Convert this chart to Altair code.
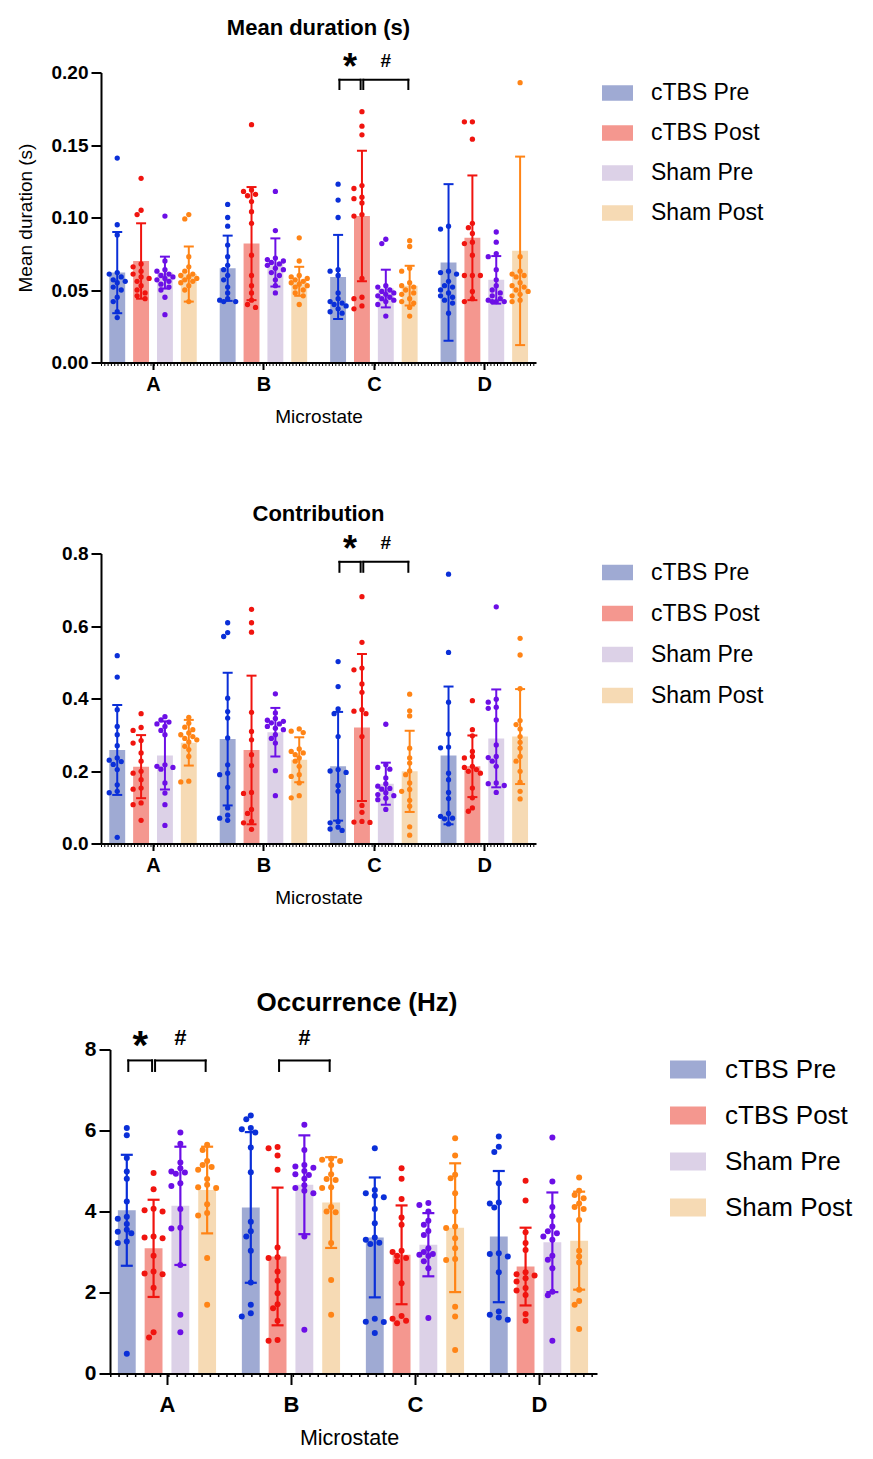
import altair as alt
import pandas as pd

FONT = "Liberation Sans"
STATES = ["A", "B", "C", "D"]
GROUPS = ["cTBS Pre", "cTBS Post", "Sham Pre", "Sham Post"]
BAR_COLORS = ["#9faad3", "#f4978f", "#dcd1e7", "#f6dab4"]
DOT_COLORS = ["#0a2fd8", "#f0140f", "#6c0fe6", "#ff8416"]

# ---- Mean duration (s): per microstate, groups in GROUPS order ----
dur_mean = [[0.062, 0.070, 0.062, 0.061], [0.065, 0.082, 0.069, 0.056],
            [0.059, 0.101, 0.051, 0.053], [0.069, 0.086, 0.057, 0.077]]
dur_sd = [[0.028, 0.026, 0.011, 0.019], [0.0225, 0.039, 0.0166, 0.010],
          [0.029, 0.045, 0.013, 0.0137], [0.054, 0.043, 0.0164, 0.065]]
dur_A = [[0.141, 0.095, 0.088, 0.062, 0.061, 0.059, 0.057, 0.056, 0.055, 0.052, 0.050, 0.045, 0.042, 0.035, 0.031],
         [0.127, 0.105, 0.102, 0.068, 0.066, 0.063, 0.061, 0.059, 0.058, 0.056, 0.053, 0.050, 0.048, 0.046, 0.044],
         [0.101, 0.070, 0.064, 0.063, 0.061, 0.060, 0.059, 0.058, 0.057, 0.056, 0.054, 0.052, 0.050, 0.045, 0.033],
         [0.102, 0.099, 0.073, 0.066, 0.063, 0.061, 0.060, 0.059, 0.058, 0.057, 0.056, 0.055, 0.053, 0.050, 0.042]]
dur_B = [[0.109, 0.100, 0.094, 0.081, 0.073, 0.067, 0.064, 0.060, 0.057, 0.052, 0.048, 0.044, 0.043, 0.042, 0.042],
         [0.164, 0.119, 0.118, 0.116, 0.115, 0.111, 0.104, 0.096, 0.074, 0.060, 0.053, 0.048, 0.043, 0.040, 0.038],
         [0.118, 0.091, 0.072, 0.071, 0.070, 0.069, 0.068, 0.067, 0.065, 0.064, 0.062, 0.060, 0.057, 0.053, 0.048],
         [0.086, 0.070, 0.060, 0.059, 0.058, 0.057, 0.056, 0.055, 0.054, 0.053, 0.052, 0.050, 0.048, 0.046, 0.040]]
dur_C = [[0.123, 0.112, 0.100, 0.064, 0.063, 0.060, 0.048, 0.044, 0.042, 0.041, 0.040, 0.039, 0.037, 0.035, 0.034],
         [0.173, 0.163, 0.157, 0.122, 0.120, 0.114, 0.113, 0.110, 0.102, 0.101, 0.058, 0.045, 0.044, 0.039, 0.037],
         [0.085, 0.082, 0.053, 0.052, 0.050, 0.049, 0.048, 0.047, 0.046, 0.045, 0.044, 0.043, 0.042, 0.040, 0.032],
         [0.084, 0.080, 0.065, 0.063, 0.055, 0.053, 0.052, 0.050, 0.048, 0.047, 0.044, 0.042, 0.041, 0.038, 0.032]]
dur_D = [[0.094, 0.092, 0.063, 0.062, 0.061, 0.056, 0.053, 0.052, 0.050, 0.048, 0.046, 0.045, 0.043, 0.041, 0.034],
         [0.166, 0.166, 0.154, 0.096, 0.093, 0.089, 0.083, 0.082, 0.074, 0.060, 0.060, 0.060, 0.049, 0.044, 0.042],
         [0.090, 0.083, 0.075, 0.073, 0.064, 0.057, 0.053, 0.050, 0.048, 0.046, 0.044, 0.043, 0.042, 0.042, 0.042],
         [0.193, 0.073, 0.063, 0.061, 0.060, 0.059, 0.055, 0.053, 0.052, 0.050, 0.049, 0.047, 0.046, 0.043, 0.042]]

# ---- Contribution ----
con_mean = [[0.258, 0.212, 0.243, 0.278], [0.288, 0.258, 0.307, 0.231],
            [0.213, 0.320, 0.165, 0.199], [0.243, 0.213, 0.290, 0.295]]
con_sd = [[0.124, 0.087, 0.094, 0.063], [0.183, 0.205, 0.067, 0.062],
          [0.150, 0.203, 0.058, 0.112], [0.190, 0.085, 0.135, 0.131]]
con_A = [[0.518, 0.459, 0.369, 0.323, 0.300, 0.270, 0.236, 0.230, 0.226, 0.218, 0.204, 0.162, 0.144, 0.140, 0.017],
         [0.358, 0.320, 0.312, 0.284, 0.277, 0.250, 0.227, 0.199, 0.194, 0.176, 0.153, 0.150, 0.112, 0.107, 0.064],
         [0.350, 0.341, 0.335, 0.330, 0.323, 0.312, 0.300, 0.217, 0.213, 0.210, 0.205, 0.167, 0.139, 0.107, 0.050],
         [0.348, 0.332, 0.321, 0.314, 0.305, 0.300, 0.295, 0.290, 0.286, 0.280, 0.268, 0.259, 0.240, 0.172, 0.170]]
con_B = [[0.609, 0.582, 0.571, 0.401, 0.364, 0.346, 0.291, 0.217, 0.194, 0.190, 0.155, 0.098, 0.078, 0.070, 0.064],
         [0.646, 0.609, 0.583, 0.362, 0.309, 0.286, 0.245, 0.215, 0.141, 0.138, 0.094, 0.083, 0.061, 0.057, 0.039],
         [0.413, 0.360, 0.345, 0.340, 0.337, 0.333, 0.330, 0.323, 0.318, 0.314, 0.300, 0.290, 0.277, 0.201, 0.132],
         [0.316, 0.310, 0.306, 0.261, 0.254, 0.250, 0.245, 0.236, 0.227, 0.213, 0.190, 0.185, 0.167, 0.132, 0.126]]
con_C = [[0.502, 0.433, 0.371, 0.358, 0.295, 0.204, 0.200, 0.196, 0.160, 0.144, 0.060, 0.057, 0.045, 0.040, 0.036],
         [0.681, 0.555, 0.484, 0.479, 0.440, 0.417, 0.369, 0.365, 0.358, 0.295, 0.105, 0.086, 0.061, 0.059, 0.058],
         [0.329, 0.217, 0.210, 0.205, 0.181, 0.165, 0.158, 0.152, 0.150, 0.140, 0.135, 0.132, 0.125, 0.121, 0.094],
         [0.412, 0.366, 0.352, 0.263, 0.236, 0.222, 0.200, 0.190, 0.167, 0.149, 0.144, 0.119, 0.103, 0.046, 0.023]]
con_D = [[0.743, 0.527, 0.390, 0.302, 0.266, 0.264, 0.194, 0.176, 0.141, 0.124, 0.083, 0.075, 0.070, 0.068, 0.054],
         [0.394, 0.314, 0.297, 0.254, 0.240, 0.236, 0.213, 0.210, 0.204, 0.199, 0.194, 0.153, 0.126, 0.098, 0.089],
         [0.653, 0.398, 0.390, 0.376, 0.373, 0.341, 0.272, 0.240, 0.237, 0.227, 0.213, 0.167, 0.165, 0.160, 0.141],
         [0.566, 0.520, 0.427, 0.339, 0.328, 0.316, 0.295, 0.279, 0.263, 0.240, 0.227, 0.199, 0.169, 0.144, 0.123]]

# ---- Occurrence (Hz) ----
occ_mean = [[4.03, 3.09, 4.14, 4.53], [4.10, 2.89, 4.66, 4.22],
            [3.36, 2.93, 3.18, 3.60], [3.38, 2.64, 3.24, 3.28]]
occ_sd = [[1.37, 1.20, 1.46, 1.07], [1.86, 1.70, 1.22, 1.12],
          [1.48, 1.22, 0.78, 1.59], [1.62, 0.96, 1.23, 1.21]]
occ_A = [[6.06, 5.88, 5.32, 4.99, 4.81, 4.25, 3.87, 3.82, 3.69, 3.55, 3.50, 3.46, 3.26, 3.22, 0.49],
         [4.95, 4.55, 4.07, 4.03, 4.00, 3.38, 3.36, 3.34, 2.91, 2.52, 2.47, 2.45, 2.12, 1.02, 0.89],
         [5.95, 5.67, 5.21, 5.07, 4.99, 4.96, 4.93, 4.70, 4.63, 4.06, 3.60, 3.58, 2.68, 1.45, 1.02],
         [5.65, 5.52, 5.25, 5.15, 5.10, 5.03, 4.80, 4.66, 4.60, 4.58, 4.18, 3.96, 3.90, 2.85, 1.70]]
occ_B = [[6.37, 6.28, 6.06, 6.03, 5.95, 5.58, 4.97, 3.75, 3.51, 3.38, 3.03, 2.25, 1.70, 1.49, 1.41],
         [5.59, 5.56, 5.38, 5.03, 3.11, 2.87, 2.85, 2.52, 2.29, 1.98, 1.71, 1.61, 1.30, 0.83, 0.81],
         [6.14, 5.52, 5.15, 5.11, 5.08, 5.00, 4.92, 4.90, 4.81, 4.65, 4.58, 4.51, 4.45, 3.38, 1.08],
         [5.30, 5.28, 5.25, 5.15, 4.92, 4.80, 4.78, 4.60, 4.58, 4.11, 4.00, 3.98, 3.22, 2.31, 1.45]]
occ_C = [[5.56, 4.53, 4.45, 4.39, 4.35, 4.06, 3.71, 3.36, 3.30, 3.23, 3.20, 1.35, 1.28, 1.27, 1.00],
         [5.07, 4.81, 4.31, 3.85, 3.67, 3.03, 3.00, 2.91, 2.85, 2.77, 2.23, 1.42, 1.35, 1.30, 1.24],
         [4.21, 4.16, 4.00, 3.77, 3.67, 3.52, 3.42, 3.09, 3.00, 2.95, 2.93, 2.90, 2.77, 2.60, 1.37],
         [5.81, 5.38, 4.91, 4.82, 4.45, 4.00, 3.63, 3.59, 3.34, 3.09, 2.83, 2.80, 1.65, 1.41, 0.58]]
occ_D = [[5.85, 5.60, 5.47, 4.70, 4.22, 4.20, 4.10, 2.97, 2.95, 2.89, 2.50, 1.53, 1.45, 1.38, 1.33],
         [4.76, 4.27, 3.49, 3.22, 3.05, 2.50, 2.45, 2.42, 2.35, 2.27, 2.11, 2.05, 1.94, 1.47, 1.30],
         [5.83, 4.74, 4.11, 3.88, 3.63, 3.51, 3.46, 3.38, 3.30, 2.91, 2.81, 2.60, 2.02, 1.93, 0.81],
         [4.84, 4.51, 4.41, 4.33, 4.20, 4.11, 4.06, 3.79, 3.03, 2.89, 2.74, 2.07, 1.79, 1.70, 1.10]]

# significance brackets: (microstate, from group, to group, symbol)
dur_sig = [("C", 0, 1, "*"), ("C", 1, 3, "#")]
con_sig = [("C", 0, 1, "*"), ("C", 1, 3, "#")]
occ_sig = [("A", 0, 1, "*"), ("A", 1, 3, "#"), ("B", 1, 3, "#")]
# bracket top, leg end, symbol level (in data units)
dur_marks = (0.195, 0.1886, 0.2077)
con_marks = (0.777, 0.7495, 0.8287)
occ_marks = (7.73, 7.47, 8.29)

PITCH = 0.216   # distance between group bars inside a microstate
HALF = 0.072    # half bar width
INSET = 0.012
X_MAX = 3.468
RECT = "M-1,-0.5H1V0.5H-1Z"


def swarm(vals, ypx, step, gap):
    """deterministic horizontal spread of points, a small beeswarm"""
    order = sorted(range(len(vals)), key=lambda i: -vals[i])
    placed, offs = [], [0.0] * len(vals)
    for i in order:
        y = vals[i] * ypx
        best, best_d = 0.0, -1.0
        for k in (0, -1, 1, -2, 2):
            x = k * step
            d = min([((x - px) ** 2 + (y - py) ** 2) ** 0.5 for px, py in placed] or [99])
            if d >= gap:
                best = x
                break
            if d > best_d:
                best, best_d = x, d
        placed.append((best, y))
        offs[i] = best
    return offs


def panel(points, means, sds, sig, marks, c):
    pxu = c["width"] / (X_MAX - c["x0"])
    ypx = c["height"] / c["ymax"]
    bars, pts = [], []
    for si, s in enumerate(STATES):
        for gi, g in enumerate(GROUPS):
            xc = si + (gi - 1.5) * PITCH
            m, sd = means[si][gi], sds[si][gi]
            bars.append(dict(group=g, xc=xc, xa=xc - HALF, xb=xc + HALF,
                             mean=m, lo=m - sd, hi=m + sd))
            vals = points[si][gi]
            for v, off in zip(vals, swarm(vals, ypx, c["step"], c["gap"])):
                pts.append(dict(group=g, value=v, x=xc + off / pxu))
    br, legs = [], []
    for s, g1, g2, sym in sig:
        si = STATES.index(s)
        xa = si + (g1 - 1.5) * PITCH + INSET
        xb = si + (g2 - 1.5) * PITCH - INSET
        br.append(dict(xa=xa, xb=xb, xm=(xa + xb) / 2, top=marks[0], ty=marks[2], sym=sym))
        legs += [dict(x=xa, top=marks[0], leg=marks[1]), dict(x=xb, top=marks[0], leg=marks[1])]
    df_bars, df_pts = pd.DataFrame(bars), pd.DataFrame(pts)
    df_br, df_legs = pd.DataFrame(br), pd.DataFrame(legs)

    xs = alt.Scale(domain=[c["x0"], X_MAX], nice=False, zero=False)
    ys = alt.Scale(domain=[0, c["ymax"]], nice=False)
    dark = alt.Scale(domain=GROUPS, range=DOT_COLORS)
    x_axis = alt.Axis(values=[0, 1, 2, 3], labelExpr="['A','B','C','D'][datum.value]",
                      title=c["xtitle_text"], grid=False, zindex=1, labelFlush=False,
                      tickSize=c["xtick"], labelPadding=c["xlpad"], labelFontSize=c["xlab"],
                      labelFontWeight="bold", titleFontSize=c["xtitle"], titleFontWeight="normal",
                      titlePadding=c["xtpad"], titleLineHeight=c["xtlh"])
    y_axis = alt.Axis(values=c["yticks"], format=c["yfmt"], title=c["ytitle"], grid=False,
                      zindex=1, offset=c["yoff"], tickSize=c["ytick"], labelPadding=3,
                      labelFontSize=c["ylab"], labelFontWeight="bold",
                      titleFontSize=19, titleFontWeight="normal", titlePadding=16)
    legend = alt.Legend(title=None, orient="none", legendX=c["legx"], legendY=c["legy"],
                        symbolType=RECT, symbolSize=c["sym"] ** 2, symbolStrokeWidth=0,
                        symbolOpacity=1, labelFontSize=c["leglab"], labelFont=FONT,
                        labelColor="black", labelOffset=c["legoff"], rowPadding=c["legrow"],
                        labelLimit=300, padding=0)

    bar_layer = alt.Chart(df_bars).mark_bar(opacity=1).encode(
        x=alt.X("xa:Q", scale=xs, axis=x_axis),
        x2="xb:Q",
        y=alt.Y("mean:Q", scale=ys, axis=y_axis),
        y2=alt.datum(0),
        color=alt.Color("group:N", scale=alt.Scale(domain=GROUPS, range=BAR_COLORS), legend=legend),
    )
    err = alt.Chart(df_bars).mark_rule(strokeWidth=c["lw"], opacity=1).encode(
        x="xc:Q", y="lo:Q", y2="hi:Q",
        stroke=alt.Stroke("group:N", scale=dark, legend=None))
    caps = alt.Chart(df_bars).transform_fold(["lo", "hi"], as_=["end", "yv"]).mark_tick(
        orient="horizontal", size=c["cap"], thickness=c["lw"], opacity=1).encode(
        x="xc:Q", y="yv:Q", fill=alt.Fill("group:N", scale=dark, legend=None))
    dots = alt.Chart(df_pts).mark_circle(size=c["dot"], opacity=1).encode(
        x="x:Q", y="value:Q", fill=alt.Fill("group:N", scale=dark, legend=None))
    br_h = alt.Chart(df_br).mark_rule(color="black", strokeWidth=2, strokeCap="square").encode(
        x="xa:Q", x2="xb:Q", y="top:Q")
    br_v = alt.Chart(df_legs).mark_rule(color="black", strokeWidth=2, strokeCap="square").encode(
        x="x:Q", y="leg:Q", y2="top:Q")
    star = alt.Chart(df_br).transform_filter("datum.sym == '*'").mark_text(
        font=FONT, fontWeight="bold", fontSize=c["star"], dy=c["stardy"], color="black",
        baseline="middle").encode(x="xm:Q", y="ty:Q", text="sym:N")
    hash_ = alt.Chart(df_br).transform_filter("datum.sym == '#'").mark_text(
        font=FONT, fontWeight="bold", fontSize=c["hash"], color="black",
        baseline="middle").encode(x="xm:Q", y="ty:Q", text="sym:N")
    x_start = c["x0"] + (-c["yoff"]) / pxu
    minor = alt.Chart(pd.DataFrame({"v": [0]})).mark_rule(
        color="black", strokeDash=c["dash"], strokeWidth=2.5, yOffset=2.3).encode(
        x=alt.datum(x_start), x2=alt.datum(X_MAX), y="v:Q")

    return alt.layer(bar_layer, err, caps, dots, br_h, br_v, star, hash_, minor).properties(
        width=c["width"], height=c["height"],
        title=alt.TitleParams(c["title"], fontSize=c["tsize"], fontWeight="bold", font=FONT,
                              color="black", anchor="middle", frame="group",
                              offset=c["toff"], dx=c["tdx"]))


small = dict(width=435, height=290, x0=-0.471, yoff=0, xtick=7, xlpad=5, xlab=20, xtitle=19,
             xtpad=13, xtitle_text="Microstate", xtlh=19, ytick=10, ylab=19, legx=501, sym=31,
             leglab=23, legoff=18, legrow=12, lw=2, cap=10, dot=28, step=4.0, gap=5.0,
             star=36, stardy=6.6, hash=19, dash=[1, 2.3], tsize=22, tdx=0)
p1 = panel([dur_A, dur_B, dur_C, dur_D], dur_mean, dur_sd, dur_sig, dur_marks,
           dict(small, ymax=0.2, yticks=[0, 0.05, 0.10, 0.15, 0.20], yfmt=".2f",
                ytitle="Mean duration (s)", legy=5, title="Mean duration (s)", toff=10))
p2 = panel([con_A, con_B, con_C, con_D], con_mean, con_sd, con_sig, con_marks,
           dict(small, ymax=0.8, yticks=[0, 0.2, 0.4, 0.6, 0.8], yfmt=".1f",
                ytitle=None, legy=3.5, legrow=13, title="Contribution", toff=6,
                stardy=6.8, xtitle_text=["Microstate", ""], xtlh=6))
p3 = panel([occ_A, occ_B, occ_C, occ_D], occ_mean, occ_sd, occ_sig, occ_marks,
           dict(width=496, height=324, x0=-0.532, yoff=-9, xtick=11, xlpad=10, xlab=22,
                xtitle=21.5, xtpad=12, xtitle_text="Microstate", xtlh=21.5, ytick=11, ylab=21,
                legx=569, sym=36, leglab=26, legoff=19, legrow=15, lw=2.2, cap=12, dot=36,
                step=4.5, gap=5.6, star=40, stardy=9.2, hash=22, dash=[1.5, 6.8], tsize=26,
                tdx=8, ymax=8, yticks=[0, 2, 4, 6, 8], yfmt="d", ytitle=None, legy=2,
                title="Occurrence (Hz)", toff=11))

chart = alt.vconcat(p1, p2, p3, spacing=76).resolve_scale(
    color="independent", fill="independent", stroke="independent"
).properties(
    padding={"left": 8, "top": 8.5, "right": 5, "bottom": 5}
).configure(background="white").configure_view(stroke=None).configure_axis(
    domainColor="black", domainWidth=2, tickColor="black", tickWidth=2,
    labelColor="black", titleColor="black", labelFont=FONT, titleFont=FONT
)

chart.save("out.html", embed_options={"renderer": "svg", "actions": False})
